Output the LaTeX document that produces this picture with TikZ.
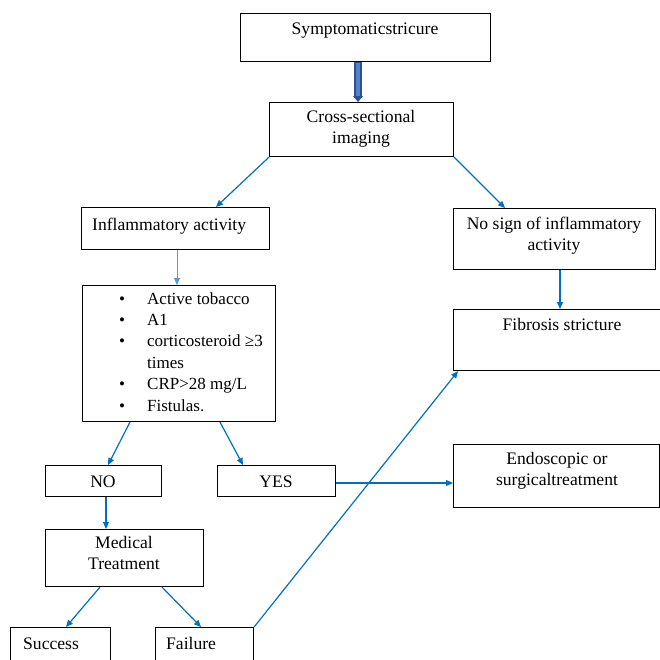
\documentclass[tikz,border=0pt]{standalone}
\usepackage{fontspec}
\setmainfont{Liberation Serif}
\usetikzlibrary{arrows.meta,calc}
\definecolor{ablue}{RGB}{0,112,192}
\definecolor{lblue}{RGB}{91,155,213}
\definecolor{dblue}{RGB}{47,82,143}
\definecolor{mblue}{RGB}{80,130,205}
\begin{document}
\begin{tikzpicture}[x=1pt,y=-1pt,
 box/.style={draw=black,line width=1.1pt,inner sep=0pt,anchor=north west},
 txt/.style={inner sep=0pt,font=\fontsize{17.6}{20.5}\selectfont,align=center},
 conn/.style={draw=ablue,line width=1.2pt,-{Triangle[length=7pt,width=6pt]}},
]
\useasboundingbox (0,0) rectangle (660,659);
\fill[white] (0,0) rectangle (660,659);
% boxes
\node[box,minimum width=250pt,minimum height=48pt] (sym) at (240,13) {};
\node[box,minimum width=184pt,minimum height=54pt] (cross) at (269,102) {};
\node[box,minimum width=188pt,minimum height=42pt] (inf) at (81,207) {};
\node[box,minimum width=193pt,minimum height=136pt] (bul) at (82,285) {};
\node[box,minimum width=116pt,minimum height=31pt] (no) at (45,465) {};
\node[box,minimum width=118pt,minimum height=31pt] (yes) at (217,465) {};
\node[box,minimum width=158pt,minimum height=57pt] (med) at (45,529) {};
\node[box,minimum width=100pt,minimum height=45pt] (suc) at (10,627) {};
\node[box,minimum width=98pt,minimum height=45pt] (fail) at (155,627) {};
\node[box,minimum width=202pt,minimum height=61pt] (nos) at (453,208) {};
\node[box,minimum width=212pt,minimum height=61pt] (fib) at (453,309) {};
\node[box,minimum width=206pt,minimum height=63pt] (endo) at (453,444) {};
% texts
\node[txt,anchor=base] (tsym) at (365,34) {Symptomaticstricure};
\node[txt,anchor=base] (tcross) at (361,143) {Cross-sectional\\imaging};
\node[txt,anchor=base west] (tinf) at (92,230) {Inflammatory activity};
\node[txt,anchor=base west,font=\fontsize{17}{21.4}\selectfont] (tbul) at (119,304) {\begin{tabular}[t]{@{}l@{}l@{}}
\makebox[28pt][l]{•}&Active tobacco\\
•&A1\\
•&corticosteroid ≥3\\
&times\\
•&CRP>28 mg/L\\
•&Fistulas.
\end{tabular}};
\node[txt,anchor=base] (tno) at (103,487) {NO};
\node[txt,anchor=base] (tyes) at (276,487) {YES};
\node[txt,anchor=base] (tmed) at (124,569) {Medical\\Treatment};
\node[txt,anchor=base west] (tsuc) at (23,649) {Success};
\node[txt,anchor=base west] (tfail) at (166,649) {Failure};
\node[txt,anchor=base] (tnos) at (554,250) {No sign of inflammatory\\activity};
\node[txt,anchor=base] (tfib) at (562,330) {Fibrosis stricture};
\node[txt,anchor=base] (tendo) at (557,485) {Endoscopic or\\surgicaltreatment};
% thick arrow
\coordinate (ta) at ($(sym.south west)+(118,0)$);
\coordinate (tb) at ($(cross.north west)+(89,0)$);
\draw[line width=8pt,dblue] (ta) -- ($(tb)+(0,-4)$);
\draw[line width=4.5pt,mblue] ($(ta)+(0,0.7)$) -- ($(tb)+(0,-4.5)$);
\fill[dblue] ($(tb)+(-5,-6)$) -- ($(tb)+(5,-6)$) -- (tb) -- cycle;
% connectors
\draw[conn] (cross.south west) -- ($(inf.north west)+(135,0)$);
\draw[conn] (cross.south east) -- ($(nos.north west)+(52,0)$);
\draw[conn,draw=lblue,line width=0.9pt] ($(inf.south west)+(96,0)$) -- ($(bul.north west)+(95,0)$);
\draw[conn] ($(bul.south west)+(48,0)$) -- ($(no.north west)+(63,0)$);
\draw[conn] ($(bul.south west)+(138,0)$) -- ($(yes.north west)+(26,0)$);
\draw[conn] ($(yes.north east)+(0,18)$) -- ($(endo.north west)+(0,39)$);
\draw[conn] ($(no.south west)+(61,0)$) -- ($(med.north west)+(61,0)$);
\draw[conn] ($(med.south west)+(55,0)$) -- ($(suc.north west)+(56,0)$);
\draw[conn] ($(med.south west)+(117,0)$) -- ($(fail.north west)+(46,0)$);
\draw[conn] (fail.north east) -- ($(fib.south west)+(5,0)$);
\draw[conn] ($(nos.south west)+(107,0)$) -- ($(fib.north west)+(107,0)$);
\end{tikzpicture}
\end{document}
